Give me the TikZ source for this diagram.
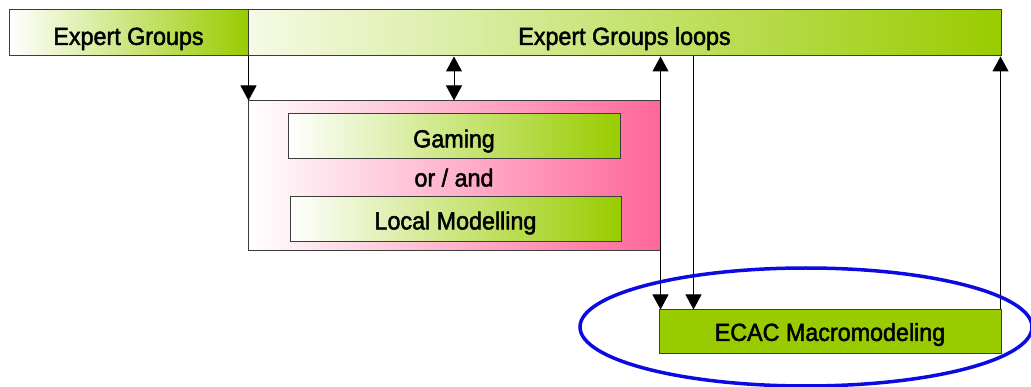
\documentclass[tikz,border=0pt]{standalone}
\usepackage{fontspec}
\setmainfont{Liberation Sans}[BoldFont=Liberation Sans, BoldFeatures={FakeBold=2}]
\usetikzlibrary{arrows.meta,calc}
\definecolor{egreen}{RGB}{153,204,0}
\definecolor{epink}{RGB}{255,102,153}
\definecolor{eblue}{RGB}{10,10,225}
\definecolor{edge}{RGB}{60,60,60}
\newcommand{\boxtxt}[2]{\smash{\raisebox{-#1pt}{\scalebox{1}[1.06]{#2}}}}
\tikzset{
  box/.style={draw=edge, line width=1pt, rectangle, inner sep=0pt, text=black,
    font=\fontsize{23.3}{26}\bfseries\selectfont},
  conn/.style={draw=black, line width=1pt},
  tip/.style={-{Triangle[width=16pt,length=15pt]}},
  dtip/.style={{Triangle[width=16pt,length=15pt]}-{Triangle[width=16pt,length=15pt]}},
  lbl/.style={font=\fontsize{23.3}{26}\bfseries\selectfont, text=black, inner sep=0pt},
}
\begin{document}
\begin{tikzpicture}[x=1pt,y=-1pt]
\useasboundingbox (0,0) rectangle (1031,387);
\clip (0,0) rectangle (1031,387);
% top bar
\node[box, minimum width=239pt, minimum height=46pt,
  left color=white, middle color=egreen!30!white, right color=egreen] (eg) at (128.5,33) {\boxtxt{11.9}{Expert Groups}};
\node[box, minimum width=753pt, minimum height=46pt,
  left color=egreen!10!white, middle color=egreen!38!white, right color=egreen] (loops) at (624.5,33) {\boxtxt{11.9}{Expert Groups loops}};
% pink box
\node[box, minimum width=412pt, minimum height=150pt,
  left color=white, middle color=epink!28!white, right color=epink] (pink) at (454,176) {};
\node[box, minimum width=332pt, minimum height=45pt,
  left color=white, middle color=egreen!22!white, right color=egreen] (gaming) at (454,136.5) {\boxtxt{10.9}{Gaming}};
\node[lbl, anchor=base] (orand) at (454,186.5) {\scalebox{1}[1.06]{or / and}};
\node[box, minimum width=331pt, minimum height=45pt,
  left color=white, middle color=egreen!22!white, right color=egreen] (local) at (455.5,219.5) {\boxtxt{9.9}{Local Modelling}};
% ECAC
\node[box, minimum width=342pt, minimum height=44pt, fill=egreen] (ecac) at (830,332) {\boxtxt{8.9}{ECAC Macromodeling}};
% connectors
\draw[conn,tip] (eg.south east) -- (eg.south east |- pink.north);
\draw[conn,dtip] (gaming.north |- loops.south) -- (gaming.north |- pink.north);
\draw[conn,dtip] (pink.east |- loops.south) -- (pink.east |- ecac.north);
\coordinate (mid) at ($(ecac.north west)+(35,0)$);
\draw[conn,tip] (mid |- loops.south) -- (mid);
\coordinate (re) at ($(ecac.north east)+(-1,0)$);
\draw[conn,tip] (re) -- (re |- loops.south);
% ellipse
\draw[eblue, line width=3.5pt] (806,327) ellipse [x radius=226, y radius=59];
\end{tikzpicture}
\end{document}
